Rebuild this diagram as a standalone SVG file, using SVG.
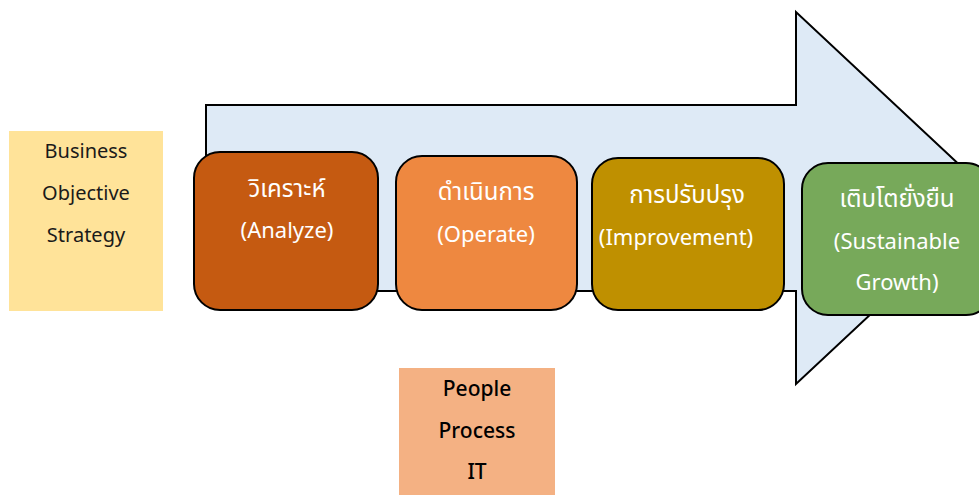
<svg xmlns="http://www.w3.org/2000/svg" width="979" height="495" viewBox="0 0 979 495">
<style>
.t{font-family:"Noto Sans","Noto Sans Thai","DejaVu Sans",sans-serif;text-anchor:middle}
.w{fill:#ffffff;font-size:22px}
.th{font-size:24px}
.d{fill:#1a1a1a;font-size:20px}
.b{fill:#000;font-weight:500;font-size:21px}
.box{stroke:#000;stroke-width:2}
</style>
<rect width="979" height="495" fill="#ffffff"/>
<g id="arrow">
<path d="M206,105 L796,105 L796,12 L995,198 L796,384 L796,291 L206,291 Z" fill="#DEEAF6" stroke="#000" stroke-width="2"/>
</g>
<g id="connectors"></g>
<g id="business">
<rect x="9" y="131" width="154" height="180" fill="#FFE399"/>
<text class="t d" x="86" y="158">Business</text>
<text class="t d" x="86" y="200">Objective</text>
<text class="t d" x="86" y="242">Strategy</text>
</g>
<g id="analyze">
<rect class="box" x="194" y="152" width="184" height="158" rx="26" fill="#C55A11"/>
<text class="t w th" x="287" y="197">วิเคราะห์</text>
<text class="t w" x="287" y="238">(Analyze)</text>
</g>
<g id="operate">
<rect class="box" x="396" y="156" width="181" height="154" rx="26" fill="#EE8840"/>
<text class="t w th" x="486" y="200">ดำเนินการ</text>
<text class="t w" x="486" y="242">(Operate)</text>
</g>
<g id="improve">
<rect class="box" x="592" y="158" width="192" height="152" rx="26" fill="#BF9000"/>
<text class="t w th" x="687" y="203">การปรับปรุง</text>
<text class="t w" x="676" y="245">(Improvement)</text>
</g>
<g id="growth">
<rect class="box" x="802" y="163" width="190" height="152" rx="26" fill="#77A95A"/>
<text class="t w th" x="897" y="207">เติบโตยั่งยืน</text>
<text class="t w" x="897" y="249">(Sustainable</text>
<text class="t w" x="897" y="290">Growth)</text>
</g>
<g id="ppt">
<rect x="399" y="368" width="156" height="127" fill="#F4B183"/>
<text class="t b" x="477" y="396">People</text>
<text class="t b" x="477" y="438">Process</text>
<text class="t b" x="477" y="479">IT</text>
</g>
</svg>
